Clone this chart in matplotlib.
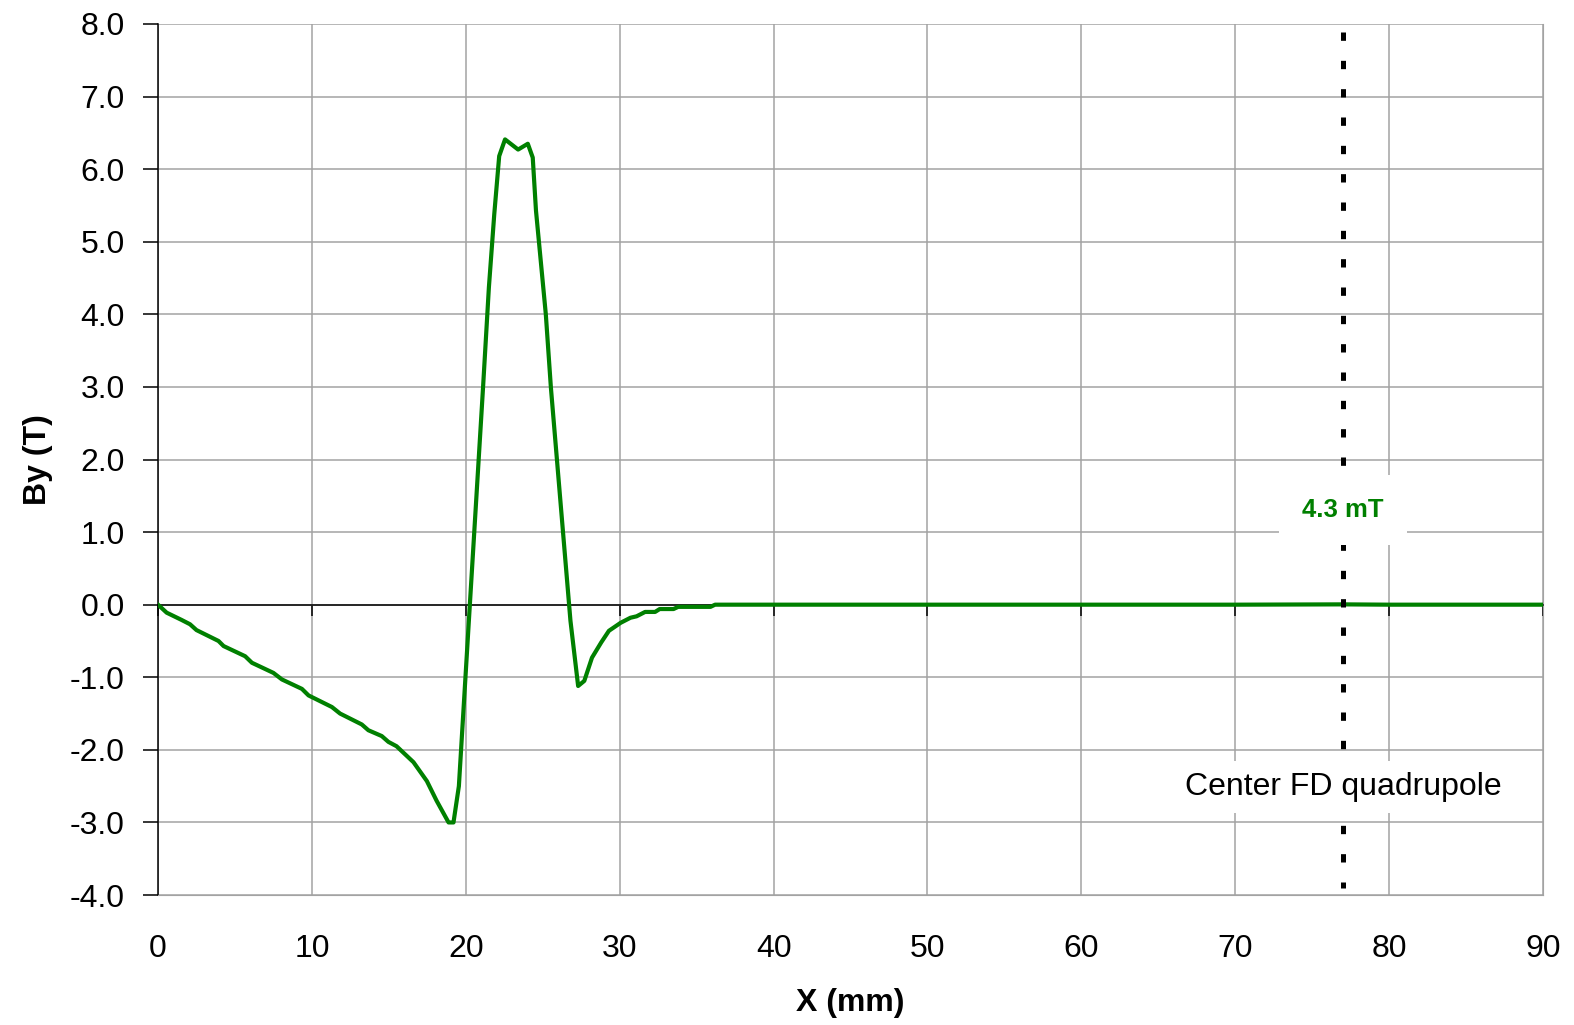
import matplotlib.pyplot as plt
from matplotlib.ticker import FormatStrFormatter, MultipleLocator

plt.rcParams['font.family'] = ['Liberation Sans', 'DejaVu Sans']
plt.rcParams['axes.unicode_minus'] = False
plt.rcParams['lines.scale_dashes'] = False

# field profile along X
x_mm = [0.0, 0.56, 1.53, 2.08, 2.5, 3.93, 4.26, 5.66, 6.1, 7.5, 8.05, 9.35, 9.78,
        11.3, 11.83, 13.24, 13.67, 14.54, 14.97, 15.5, 16.6, 17.47, 18.1, 18.88,
        19.2, 19.55, 20.2, 21.12, 21.5, 21.85, 22.17, 22.55, 23.4, 24.03, 24.35,
        24.56, 25.2, 25.53, 26.4, 26.8, 27.3, 27.7, 28.2, 28.8, 29.3, 30.06, 30.7,
        31.1, 31.65, 32.3, 32.6, 33.5, 33.8, 35.9, 36.2, 40.0, 50.0, 60.0, 70.0,
        77.0, 80.0, 90.0]
by_t = [0.0, -0.11, -0.21, -0.27, -0.35, -0.5, -0.57, -0.71, -0.8, -0.94, -1.03,
        -1.16, -1.25, -1.41, -1.5, -1.65, -1.73, -1.81, -1.89, -1.95, -2.17, -2.43,
        -2.7, -3.0, -3.0, -2.5, -0.22, 2.99, 4.37, 5.38, 6.18, 6.41, 6.27, 6.35,
        6.16, 5.43, 4.0, 2.99, 0.79, -0.22, -1.12, -1.05, -0.73, -0.52, -0.36,
        -0.25, -0.18, -0.16, -0.1, -0.1, -0.06, -0.06, -0.03, -0.03, 0.0, 0.0,
        0.0, 0.0, 0.0, 0.0043, 0.0, 0.0]

x_ticks = [0, 10, 20, 30, 40, 50, 60, 70, 80, 90]
quad_center = 77.0
field_at_center = 0.0043

fig = plt.figure(figsize=(15.74, 10.25), dpi=100)
ax = fig.add_axes([0.1004, 0.1268, 0.8799, 0.8498])

ax.plot(x_mm, by_t, color='#008000', linewidth=3.0, zorder=3,
        solid_joinstyle='round')

# quadrupole center marker
ax.plot([quad_center, quad_center], [7.89, -3.90], color='black', linewidth=3.6,
        linestyle=(0, (6.0, 14.4)), zorder=4)

ax.text(quad_center, 1.3, f"{field_at_center * 1000:.1f} mT", color='#008000',
        fontsize=18.5, fontweight='bold', ha='center', va='center', zorder=5,
        bbox=dict(boxstyle='square,pad=0.9', facecolor='white', edgecolor='none'))
ax.text(quad_center, -2.51, "Center FD quadrupole", color='black', fontsize=23,
        ha='center', va='center', zorder=5,
        bbox=dict(boxstyle='square,pad=0.35', facecolor='white', edgecolor='none'))

ax.set_xlim(0, 90)
ax.set_ylim(-4, 8)
ax.set_xticks(x_ticks)
ax.yaxis.set_major_locator(MultipleLocator(1.0))
ax.yaxis.set_major_formatter(FormatStrFormatter('%.1f'))

ax.grid(True, color='#a3a3a3', linewidth=1.1)
ax.set_axisbelow(True)

# x axis line crosses at zero, border drawn in grey
ax.spines['top'].set_position(('data', 0))
ax.spines['top'].set_color('black')
ax.spines['top'].set_linewidth(1.1)
ax.spines['bottom'].set_color('#a3a3a3')
ax.spines['right'].set_color('#a3a3a3')
ax.spines['left'].set_color('black')
ax.spines['left'].set_linewidth(1.1)

ax.tick_params(axis='x', bottom=False, top=True, direction='in', length=8,
               width=1.1, labelbottom=True, labeltop=False, labelsize=23, pad=28)
ax.tick_params(axis='y', direction='out', length=11, width=1.1, labelsize=23, pad=13)

ax.set_xlabel("X (mm)", fontsize=23, fontweight='bold', labelpad=17)
ax.set_ylabel("By (T)", fontsize=23, fontweight='bold', labelpad=12)

fig.savefig("out.png", dpi=100)
